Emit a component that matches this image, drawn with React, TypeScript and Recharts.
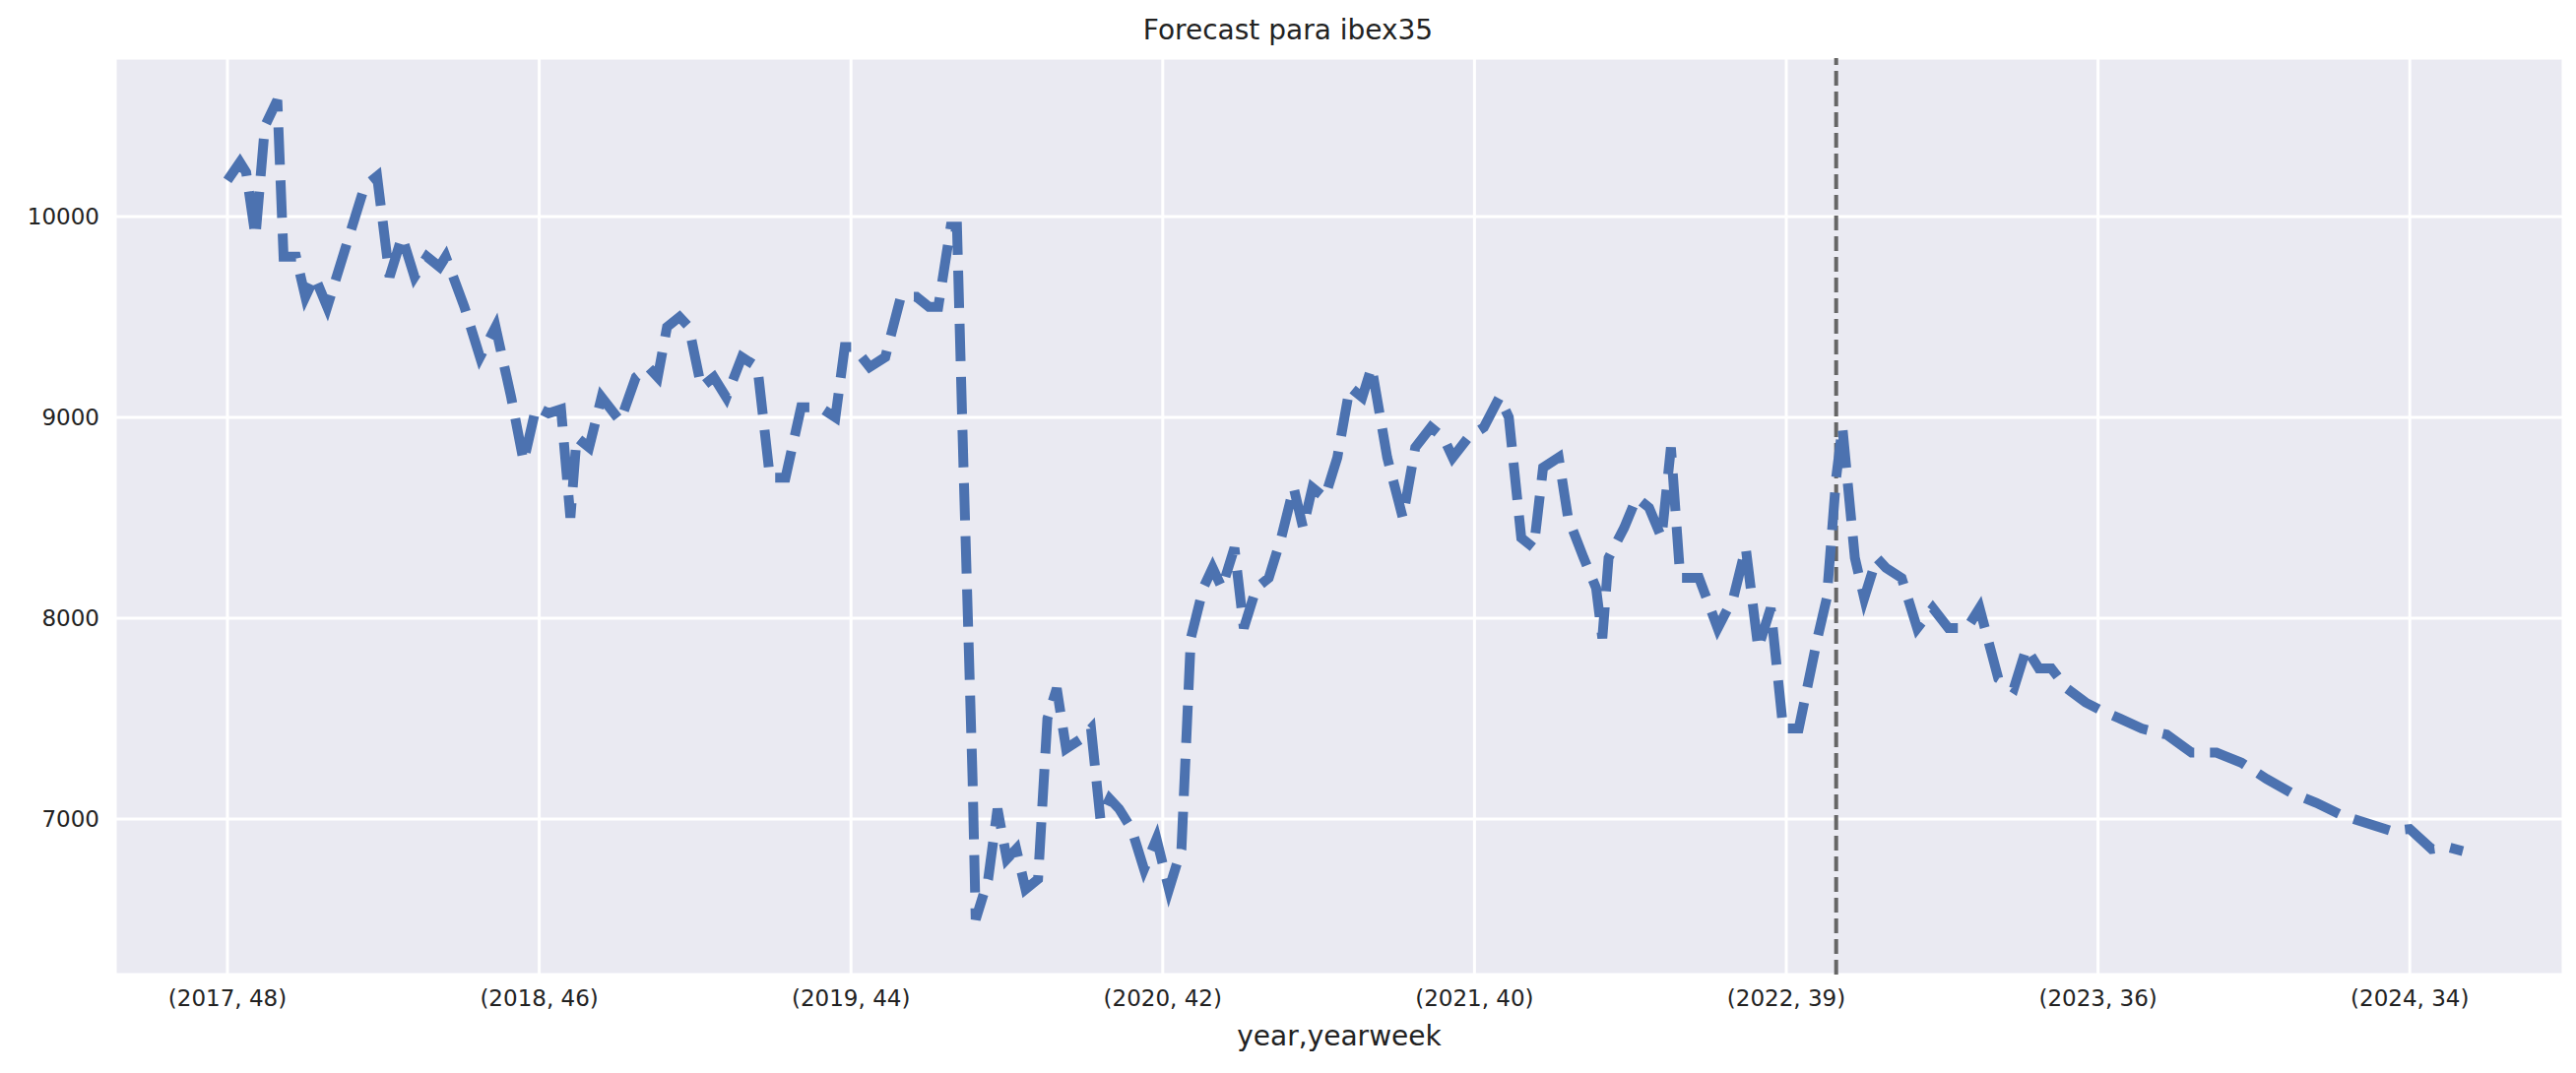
import { LineChart, Line, XAxis, YAxis, CartesianGrid, ReferenceLine } from 'recharts';

// week index since (2017, 48) and ibex35 value
const weeks = [0, 2, 3, 4.5, 6, 8, 9, 11, 12.5, 14, 16, 19, 22, 24, 26, 28, 30, 32, 34, 35, 38, 40.5, 43, 45.5, 47.5, 49.5, 51.5, 53.5, 55, 56, 58, 60, 63, 65.5, 67.5, 69, 70.5, 72.5, 74, 76, 78, 80, 82.5, 85, 87, 89.5, 92, 95, 97.5, 99, 100.5, 103, 105.5, 108, 110.5, 112.5, 114, 116, 117, 118, 119.5, 120, 122, 123.5, 125, 126.5, 128, 130, 131.5, 133, 134.5, 137, 138.5, 140, 141.5, 143, 145, 147, 149, 151, 153, 154.5, 156.5, 158, 159.5, 161.5, 163, 165, 167, 169, 171, 172.5, 174, 176, 178, 180, 182, 183.5, 186, 188.5, 190.5, 193, 195, 196.5, 199, 201.5, 204, 205.5, 207.5, 209.5, 211, 213.5, 215, 217.5, 219.5, 220.5, 221.5, 224, 226, 228, 230, 231.5, 233, 236, 239, 241.5, 243.5, 245.5, 247.5, 249.5, 252, 255, 256.5, 258, 259, 261, 262.5, 264.5, 266, 268.5, 271, 273.5, 276, 279, 281, 284, 286.5, 288.5, 290.5, 292.5, 295, 298, 300.5, 303.5, 307, 311, 315, 319, 323, 327, 331, 335, 339, 343, 347, 350, 353.5, 356, 358.5];
const values = [10180, 10270, 10220, 9900, 10450, 10580, 9800, 9800, 9600, 9700, 9550, 9850, 10150, 10200, 9700, 9900, 9700, 9800, 9750, 9800, 9550, 9300, 9450, 9100, 8780, 9050, 9020, 9040, 8500, 8900, 8850, 9100, 8980, 9200, 9250, 9200, 9450, 9500, 9450, 9150, 9200, 9100, 9300, 9250, 8700, 8700, 9050, 9050, 9000, 9350, 9350, 9250, 9300, 9600, 9600, 9550, 9550, 9950, 9950, 8800, 7200, 6500, 6700, 7050, 6800, 6850, 6650, 6700, 7500, 7650, 7350, 7400, 7450, 7000, 7100, 7050, 6950, 6750, 6900, 6650, 6850, 7900, 8150, 8250, 8150, 8350, 7950, 8150, 8200, 8400, 8650, 8450, 8650, 8600, 8800, 9150, 9100, 9250, 8800, 8500, 8850, 8950, 8900, 8800, 8900, 8950, 9100, 9000, 8400, 8350, 8750, 8800, 8500, 8300, 8150, 7900, 8300, 8450, 8600, 8550, 8400, 8850, 8200, 8200, 7950, 8100, 8350, 7850, 8050, 7450, 7450, 7900, 8100, 8700, 8950, 8300, 8100, 8300, 8250, 8200, 7950, 8050, 7950, 7950, 8050, 7700, 7650, 7850, 7750, 7750, 7650, 7580, 7540, 7500, 7450, 7420, 7330, 7330, 7280, 7200, 7130, 7080, 7020, 6980, 6940, 6950, 6850, 6860, 6840];

const tickWeeks = [0, 50, 100, 150, 200, 250, 300, 350];
const tickLabels = ['(2017, 48)', '(2018, 46)', '(2019, 44)', '(2020, 42)', '(2021, 40)', '(2022, 39)', '(2023, 36)', '(2024, 34)'];
const yTicks = [7000, 8000, 9000, 10000];
const forecastStart = 258;

const data = weeks.map((w, i) => ({ week: w, value: values[i] }));
const font = 'DejaVu Sans, sans-serif';

export default function App() {
  return (
    <div style={{ position: 'absolute', left: 0, top: 0, width: 2616, height: 1090, background: '#fff', fontFamily: font }}>
      <div style={{ position: 'absolute', top: 14, width: 2616, textAlign: 'center', fontSize: 28, color: '#222' }}>
        Forecast para ibex35
      </div>
      <div style={{ position: 'absolute', top: 1036, left: 117, width: 2486, textAlign: 'center', fontSize: 28, color: '#222' }}>
        year,yearweek
      </div>
      <LineChart width={2616} height={1090} data={data} margin={{ top: 59, right: 13, left: 0, bottom: 0 }}>
        <CartesianGrid stroke="#ffffff" strokeWidth={3} fill="#eaeaf2" />
        <XAxis
          dataKey="week"
          type="number"
          domain={[-18, 374.6]}
          ticks={tickWeeks}
          tickFormatter={(w: number) => tickLabels[tickWeeks.indexOf(w)]}
          tick={{ fontSize: 23, fill: '#222', fontFamily: font }}
          tickLine={false}
          axisLine={false}
          tickMargin={10}
          height={100}
        />
        <YAxis
          type="number"
          domain={[6225, 10789]}
          ticks={yTicks}
          tick={{ fontSize: 23, fill: '#222', fontFamily: font }}
          tickLine={false}
          axisLine={false}
          width={117}
          tickMargin={10}
        />
        <ReferenceLine x={forecastStart} stroke="#666666" strokeWidth={4} strokeDasharray="15 6" />
        <Line
          type="linear"
          dataKey="value"
          stroke="#4c72b0"
          strokeWidth={10}
          strokeDasharray="38 16"
          dot={false}
          isAnimationActive={false}
        />
      </LineChart>
    </div>
  );
}
